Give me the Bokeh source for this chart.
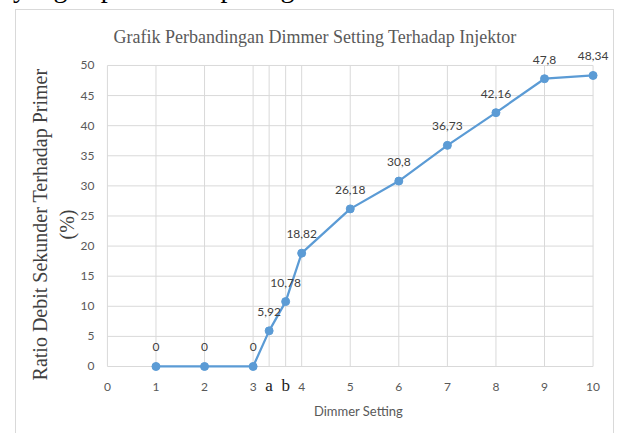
from bokeh.plotting import figure
from bokeh.layouts import column
from bokeh.models import Range1d, FixedTicker, LabelSet, ColumnDataSource, Div
from bokeh.core.properties import value
from bokeh.embed import file_html
from bokeh.resources import INLINE

# ---- data ----
dimmer = [1, 2, 3, 3.33, 3.67, 4, 5, 6, 7, 8, 9, 10]
ratio = [0, 0, 0, 5.92, 10.78, 18.82, 26.18, 30.8, 36.73, 42.16, 47.8, 48.34]
x_ticks = [0, 1, 2, 3, 4, 5, 6, 7, 8, 9, 10]
y_ticks = [0, 5, 10, 15, 20, 25, 30, 35, 40, 45, 50]
extra_ticks = [3.33, 3.67]
extra_labels = ["a", "b"]
title_text = "Grafik Perbandingan Dimmer Setting Terhadap Injektor"
x_label = "Dimmer Setting"
y_label = "Ratio Debit Sekunder Terhadap Primer\n(%)"
intro_text = "yang dapat dilihat pada gambar 6."

value_labels = [f"{v:g}".replace(".", ",") for v in ratio]

BLUE = "#5B9BD5"
GRID = "#d9d9d9"
TICK = "#595959"

p = figure(width=599, height=424, output_backend="svg", toolbar_location=None,
           x_range=Range1d(-0.06, 10.4), y_range=Range1d(-5.65, 52.82),
           min_border_left=88, min_border_right=3, min_border_top=38, min_border_bottom=34,
           title=title_text,
           styles={"margin-left": "15px", "margin-top": "2px",
                   "border": "1px solid #d9d9d9", "border-bottom": "none"})
p.outline_line_color = None
p.background_fill_color = "white"
p.border_fill_color = "white"
p.xgrid.visible = False
p.ygrid.visible = False

p.title.text_font = "Liberation Serif"
p.title.text_font_size = "18px"
p.title.text_font_style = "normal"
p.title.text_color = TICK
p.title.align = "left"
p.title.offset = 9
p.title.standoff = 4

p.xaxis.ticker = FixedTicker(ticks=x_ticks)
p.yaxis.ticker = FixedTicker(ticks=y_ticks)
for ax in (p.xaxis, p.yaxis):
    ax.axis_line_color = None
    ax.major_tick_line_color = None
    ax.minor_tick_line_color = None
    ax.major_tick_out = 0
    ax.minor_tick_out = 0
    ax.major_label_text_font = "Lato"
    ax.major_label_text_font_size = "12px"
    ax.major_label_text_color = TICK

p.yaxis.major_label_standoff = 10
p.yaxis.axis_label = y_label
p.yaxis.axis_label_text_font = "Liberation Serif"
p.yaxis.axis_label_text_font_size = "20px"
p.yaxis.axis_label_text_font_style = "normal"
p.yaxis.axis_label_text_color = "#404040"
p.yaxis.axis_label_standoff = 0

p.xaxis.major_label_standoff = -18
p.xaxis.axis_label = x_label
p.xaxis.axis_label_text_font = "Lato"
p.xaxis.axis_label_text_font_size = "13px"
p.xaxis.axis_label_text_font_style = "normal"
p.xaxis.axis_label_text_color = TICK
p.xaxis.axis_label_standoff = 9

# grid lines limited to the chart's value area
grid_x = sorted(x_ticks + extra_ticks)
p.segment(x0=grid_x, y0=[min(y_ticks)] * len(grid_x), x1=grid_x, y1=[max(y_ticks)] * len(grid_x),
          line_color=GRID, line_width=1)
p.segment(x0=[min(x_ticks)] * len(y_ticks), y0=y_ticks, x1=[max(x_ticks)] * len(y_ticks), y1=y_ticks,
          line_color=GRID, line_width=1)

p.line(dimmer, ratio, line_color=BLUE, line_width=2.25)
p.scatter(dimmer, ratio, size=8, fill_color=BLUE, line_color=BLUE)

src = ColumnDataSource(dict(x=dimmer, y=ratio, t=value_labels))
p.add_layout(LabelSet(x="x", y="y", text="t", source=src, text_align="center",
                      text_baseline="middle", y_offset=19, text_font=value("Lato"),
                      text_font_size="12px", text_color="#404040"))

p.text(x=extra_ticks, y=[min(y_ticks)] * len(extra_ticks), text=extra_labels,
       text_align="center", text_baseline="middle", y_offset=19,
       text_font=value("Liberation Serif"), text_font_size="17px", text_color="#1a1a1a")

# cut-off line of the surrounding document text, above the chart
intro = Div(text=intro_text, width=600, height=28,
            styles={"font-family": "Liberation Serif", "font-size": "28px",
                    "line-height": "28px", "color": "#000000", "white-space": "nowrap",
                    "margin-top": "-26px", "margin-left": "13px"})

page = column(intro, p, spacing=0)

open("out.html", "w").write(file_html(page, INLINE))
